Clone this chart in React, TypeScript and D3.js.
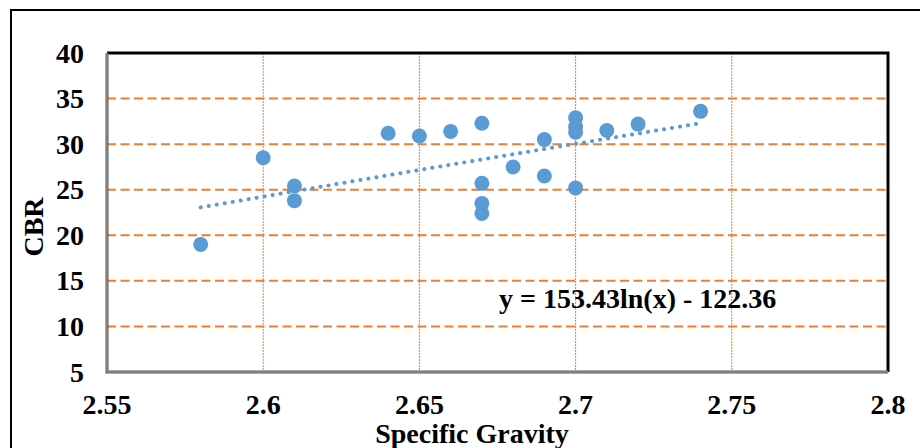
import React, { useRef, useEffect } from 'react';
import * as d3 from 'd3';

// specific gravity vs CBR
const gravity = [2.58, 2.6, 2.61, 2.61, 2.64, 2.65, 2.66, 2.67, 2.67, 2.67, 2.67, 2.68, 2.69, 2.69, 2.7, 2.7, 2.7, 2.7, 2.71, 2.72, 2.74];
const cbr = [19.0, 28.5, 25.4, 23.8, 31.2, 30.9, 31.4, 32.3, 25.7, 23.5, 22.4, 27.5, 30.5, 26.5, 32.9, 31.9, 31.3, 25.2, 31.5, 32.2, 33.6];

const xTicks = [2.55, 2.6, 2.65, 2.7, 2.75, 2.8];
const yTicks = [5, 10, 15, 20, 25, 30, 35, 40];

// log trendline shown in the chart
const trendA = 153.43;
const trendB = -122.36;
const trendLabel = 'y = 153.43ln(x) - 122.36';

const FONT = '"Times New Roman", "Liberation Serif", serif';

export default function App() {
  const ref = useRef<SVGSVGElement>(null);

  useEffect(() => {
    const svg = d3.select(ref.current);
    svg.selectAll('*').remove();

    const left = 107, right = 888, top = 53, bottom = 372;
    const x = d3.scaleLinear().domain([2.55, 2.8]).range([left, right]);
    const y = d3.scaleLinear().domain([5, 40]).range([bottom, top]);

    // outer frame
    svg.append('rect')
      .attr('x', 11).attr('y', 10)
      .attr('width', 930).attr('height', 460)
      .attr('fill', 'white')
      .attr('stroke', 'black').attr('stroke-width', 2);

    // grid
    svg.append('g')
      .selectAll('line')
      .data(yTicks.filter(t => t > 5 && t < 40))
      .join('line')
        .attr('x1', left).attr('x2', right)
        .attr('y1', d => y(d)).attr('y2', d => y(d))
        .attr('stroke', '#ED7D31').attr('stroke-width', 2)
        .attr('stroke-dasharray', '9,4.5');
    svg.append('g')
      .selectAll('line')
      .data(xTicks.filter(t => t > 2.55 && t < 2.8))
      .join('line')
        .attr('x1', d => x(d)).attr('x2', d => x(d))
        .attr('y1', top).attr('y2', bottom)
        .attr('stroke', '#ED7D31').attr('stroke-width', 1)
        .attr('stroke-dasharray', '2,1');

    // plot border: black top/right, grey axes left/bottom
    svg.append('path')
      .attr('d', `M${left},${top}H${right}V${bottom}`)
      .attr('fill', 'none').attr('stroke', 'black').attr('stroke-width', 3);
    svg.append('path')
      .attr('d', `M${left},${top}V${bottom}H${right}`)
      .attr('fill', 'none').attr('stroke', '#555').attr('stroke-width', 3);
    svg.append('path')
      .attr('d', `M${left},${top}V${bottom}H${right}`)
      .attr('fill', 'none').attr('stroke', '#aaa').attr('stroke-width', 1);

    // trendline
    const tx = d3.range(2.58, 2.7401, 0.005);
    svg.append('path')
      .datum(tx)
      .attr('fill', 'none')
      .attr('stroke', '#5B9BD5')
      .attr('stroke-width', 4)
      .attr('stroke-linecap', 'round')
      .attr('stroke-dasharray', '0.1,8')
      .attr('d', d3.line<number>()
        .x(d => x(d))
        .y(d => y(trendA * Math.log(d) + trendB)));

    // points
    svg.append('g')
      .attr('fill', '#5B9BD5')
      .selectAll('circle')
      .data(gravity)
      .join('circle')
        .attr('cx', d => x(d))
        .attr('cy', (d, i) => y(cbr[i]))
        .attr('r', 7.5);

    // tick labels
    svg.append('g')
      .selectAll('text')
      .data(yTicks)
      .join('text')
        .attr('x', 84).attr('y', d => y(d))
        .attr('dy', '0.34em')
        .attr('text-anchor', 'end')
        .style('font-family', FONT).style('font-weight', 'bold').style('font-size', '28px')
        .text(d => d);
    svg.append('g')
      .selectAll('text')
      .data(xTicks)
      .join('text')
        .attr('x', d => x(d)).attr('y', 414)
        .attr('text-anchor', 'middle')
        .style('font-family', FONT).style('font-weight', 'bold').style('font-size', '28px')
        .text(d => d);

    // axis titles
    svg.append('text')
      .attr('x', 472).attr('y', 443)
      .attr('text-anchor', 'middle')
      .style('font-family', FONT).style('font-weight', 'bold').style('font-size', '28px')
      .text('Specific Gravity');
    svg.append('text')
      .attr('transform', 'translate(43,227) rotate(-90)')
      .attr('text-anchor', 'middle')
      .style('font-family', FONT).style('font-weight', 'bold').style('font-size', '28px')
      .text('CBR');

    // equation
    svg.append('text')
      .attr('x', 499).attr('y', 308)
      .style('font-family', FONT).style('font-weight', 'bold').style('font-size', '28px')
      .text(trendLabel);
  }, []);

  return (
    <svg ref={ref} width={920} height={448}
      style={{ position: 'absolute', left: 0, top: 0, display: 'block', background: 'white' }} />
  );
}
